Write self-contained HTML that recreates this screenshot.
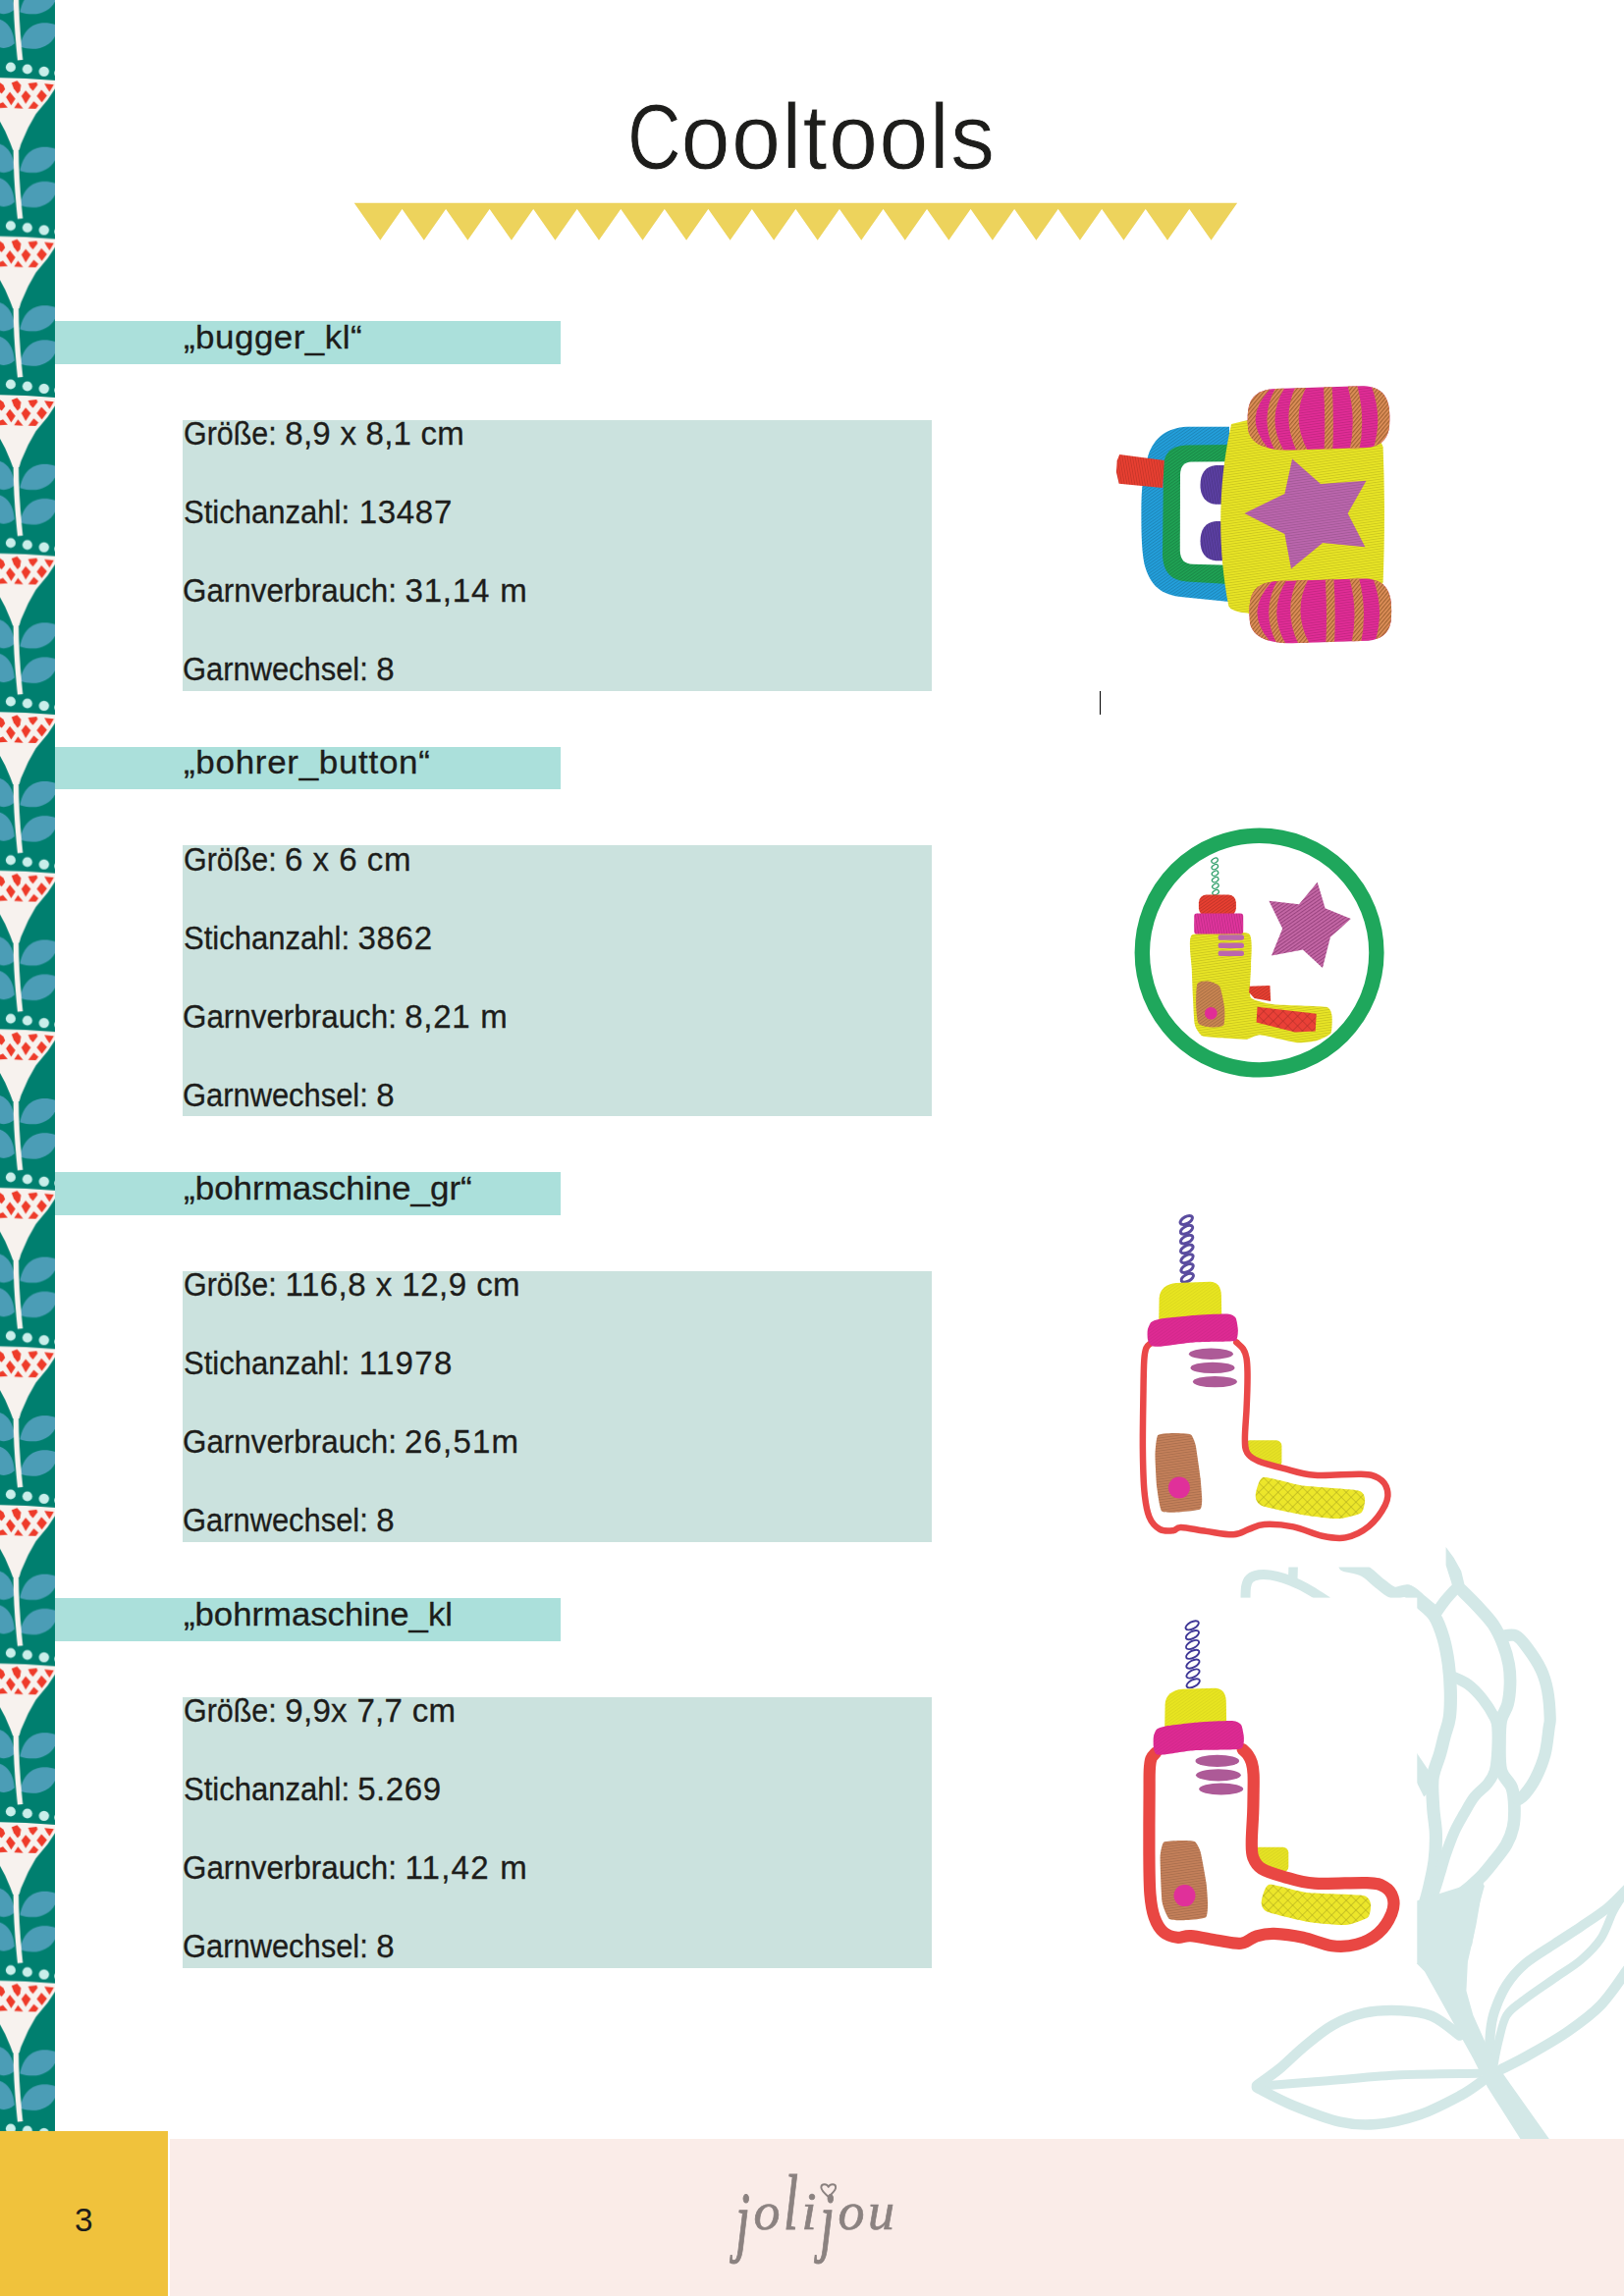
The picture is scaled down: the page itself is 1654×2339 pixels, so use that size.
<!DOCTYPE html>
<html lang="de"><head><meta charset="utf-8"><title>Cooltools</title>
<style>
html,body{margin:0;padding:0;background:#fff;overflow:hidden}
body{width:1654px;height:2339px;position:relative;overflow:hidden;font-family:"Liberation Sans", sans-serif;color:#1d1d1b}
.abs{position:absolute;display:block}
.t{position:absolute;white-space:pre;line-height:1.149;margin:0;padding:0;transform-origin:0 0;-webkit-text-stroke-width:.3px}
.l{font-size:33px}
.k,.v{display:inline-block;transform-origin:0 0}
.v{position:relative}
.bar{position:absolute;left:56px;width:514.7px;height:43.4px;background:#abe0db}
.box{position:absolute;left:185.8px;width:763.2px;height:276.1px;background:#cbe2de}
h1.t{font-weight:normal}
</style></head><body>
<svg class="abs" style="left:1240px;top:1560px" width="414" height="620" viewBox="1240 1560 414 620"><g fill="none" stroke="#d3e8e7" stroke-width="11.5" stroke-linecap="round" stroke-linejoin="round"><path d="M1268.5,1630.8 C1268.6,1628.4 1268.4,1620.2 1269.1,1616.4 C1269.8,1612.6 1270.6,1610.1 1272.8,1608.1 C1275.0,1606.1 1278.8,1604.9 1282.4,1604.3 C1286.0,1603.7 1290.3,1604.0 1294.4,1604.6 C1298.5,1605.2 1302.4,1606.2 1307.2,1607.8 C1312.0,1609.4 1318.2,1611.8 1323.3,1614.2 C1328.4,1616.6 1333.2,1619.5 1337.7,1622.2 C1342.2,1624.9 1348.4,1629.1 1350.5,1630.5" stroke-width="10"/><path d="M1317.2,1594 C1317.1,1596.3 1316.9,1605.3 1316.8,1607.6" stroke-width="9.5"/><path d="M1369.4,1594.9 C1372.7,1595.8 1383.5,1597.4 1389.3,1600.3 C1395.1,1603.2 1399.2,1608.6 1404.2,1612.3 C1409.2,1616.0 1414.2,1621.3 1419.2,1622.7 C1424.2,1624.1 1429.5,1619.3 1434.1,1620.5 C1438.6,1621.7 1442.0,1626.1 1446.5,1629.7 C1451.0,1633.3 1458.9,1640.0 1461.4,1642.1" stroke-width="12.2"/><path d="M1481.4,1619.6 C1479.8,1621.4 1475.0,1626.6 1471.9,1630.4 C1468.9,1634.2 1464.6,1640.6 1463.1,1642.6" stroke-width="11.2"/><path d="M1434,1621 C1436.2,1623.0 1443.0,1628.9 1447.5,1633.2 C1452.0,1637.5 1457.4,1640.8 1461.1,1646.7 C1464.8,1652.6 1467.5,1660.3 1469.9,1668.4 C1472.3,1676.5 1474.1,1686.5 1475.3,1695.5 C1476.5,1704.5 1477.1,1713.6 1477.3,1722.6 C1477.5,1731.6 1477.3,1742.1 1476.3,1749.7 C1475.3,1757.3 1472.9,1761.9 1471.3,1768.1 C1469.7,1774.3 1468.5,1779.9 1466.5,1787.1 C1464.5,1794.3 1460.2,1802.5 1459.1,1811.5 C1458.0,1820.5 1459.2,1831.8 1459.7,1841.3 C1460.2,1850.8 1462.2,1859.4 1462.4,1868.4 C1462.6,1877.4 1462.2,1886.5 1461.1,1895.5 C1460.0,1904.5 1457.5,1914.7 1455.7,1922.6 C1453.9,1930.5 1451.2,1939.5 1450.3,1942.9" stroke-width="13.2"/><path d="M1488.2,1619.6 C1490.9,1622.3 1499.0,1630.0 1504.4,1635.9 C1509.8,1641.8 1516.3,1648.3 1520.7,1654.8 C1525.1,1661.3 1528.2,1668.3 1530.9,1675.1 C1533.6,1681.9 1535.5,1688.7 1536.7,1695.5 C1537.9,1702.3 1538.2,1709.0 1538.0,1715.8 C1537.8,1722.6 1537.1,1730.0 1535.6,1736.1 C1534.1,1742.2 1530.1,1746.2 1528.8,1752.4 C1527.5,1758.6 1527.5,1765.0 1527.5,1773.5 C1527.5,1782.0 1526.8,1795.4 1528.8,1803.3 C1530.8,1811.2 1537.4,1814.7 1539.7,1821.0 C1542.0,1827.3 1542.2,1834.5 1542.4,1841.3 C1542.6,1848.1 1542.4,1855.3 1541.0,1861.6 C1539.6,1867.9 1537.4,1873.5 1534.2,1879.2 C1531.0,1884.9 1526.6,1889.8 1522.1,1895.5 C1517.6,1901.2 1512.8,1907.5 1507.2,1913.1 C1501.6,1918.7 1494.8,1924.6 1488.2,1929.3 C1481.7,1934.0 1473.1,1938.3 1467.9,1941.5 C1462.7,1944.7 1458.8,1947.2 1457.0,1948.3" stroke-width="12.7"/><path d="M1528.8,1667 C1531.3,1666.9 1539.2,1664.3 1543.7,1666.3 C1548.2,1668.3 1551.6,1673.4 1555.9,1679.2 C1560.2,1685.0 1566.1,1693.7 1569.5,1700.9 C1572.9,1708.1 1574.7,1714.5 1576.2,1722.6 C1577.7,1730.7 1578.5,1743.5 1578.7,1749.7 C1578.9,1755.9 1578.5,1753.8 1577.6,1760.0 C1576.7,1766.2 1575.8,1778.5 1573.5,1787.1 C1571.2,1795.7 1567.4,1804.7 1564.0,1811.5 C1560.6,1818.3 1556.1,1824.1 1553.2,1827.7 C1550.3,1831.3 1547.5,1832.3 1546.4,1833.2" stroke-width="12.2"/><path d="M1478.7,1707.7 C1481.4,1709.0 1489.8,1712.0 1495.0,1715.8 C1500.2,1719.6 1505.4,1725.0 1509.9,1730.7 C1514.4,1736.4 1519.6,1744.8 1522.1,1749.7 C1524.6,1754.6 1524.4,1753.8 1524.8,1760.0 C1525.2,1766.2 1525.0,1779.6 1524.5,1787.1 C1524.0,1794.5 1523.6,1799.7 1522.1,1804.7 C1520.6,1809.7 1518.7,1812.6 1515.3,1816.9 C1511.9,1821.2 1505.8,1825.2 1501.7,1830.4 C1497.6,1835.6 1494.3,1842.2 1490.9,1848.1 C1487.5,1854.0 1484.5,1858.9 1481.4,1865.7 C1478.4,1872.5 1475.1,1881.5 1472.6,1888.7 C1470.1,1895.9 1468.5,1902.5 1466.5,1909.0 C1464.5,1915.5 1462.7,1921.9 1460.4,1928.0 C1458.2,1934.1 1454.2,1942.7 1453.0,1945.6" stroke-width="11"/><path d="M1486.8,2073.6 C1482.1,2070.3 1468.5,2058.1 1458.4,2053.9 C1448.3,2049.7 1437.9,2048.8 1426.4,2048.3 C1414.9,2047.8 1401.0,2048.2 1389.5,2050.7 C1378.0,2053.2 1367.7,2057.3 1357.4,2063.1 C1347.1,2068.8 1336.9,2077.8 1327.9,2085.2 C1318.9,2092.6 1311.3,2100.8 1303.3,2107.4 C1295.3,2114.0 1283.8,2121.7 1279.9,2124.6" stroke-width="10.5"/><path d="M1279.9,2125.4 C1292.0,2124.4 1328.1,2121.6 1352.5,2119.7 C1376.9,2117.8 1401.0,2115.0 1426.4,2113.8 C1451.9,2112.6 1492.1,2112.6 1505.2,2112.3" stroke-width="9"/><path d="M1279.9,2126.6 C1285.9,2129.6 1301.4,2138.5 1315.6,2144.3 C1329.8,2150.1 1350.4,2158.3 1364.8,2161.6 C1379.2,2164.9 1388.2,2165.2 1401.8,2164.0 C1415.3,2162.8 1431.7,2159.1 1446.1,2154.2 C1460.5,2149.3 1477.3,2140.2 1488.0,2134.5 C1498.7,2128.8 1506.5,2122.2 1510.2,2119.7" stroke-width="10.5"/><path d="M1516.6,2099.5 C1516.8,2094.5 1517.1,2078.1 1518.0,2069.7 C1518.9,2061.3 1519.3,2057.2 1522.0,2049.3 C1524.7,2041.4 1529.1,2030.3 1534.3,2022.2 C1539.5,2014.1 1545.2,2007.5 1553.3,2000.5 C1561.4,1993.5 1573.6,1986.6 1583.1,1980.3 C1592.6,1974.0 1601.2,1968.7 1610.2,1962.6 C1619.2,1956.5 1629.3,1950.1 1637.3,1943.6 C1645.2,1937.1 1654.5,1926.8 1657.9,1923.4" stroke-width="10"/><path d="M1521.2,2104.4 C1522.0,2100.3 1524.0,2088.3 1526.2,2079.8 C1528.4,2071.3 1530.2,2060.3 1534.3,2053.4 C1538.4,2046.5 1542.5,2044.7 1550.6,2038.4 C1558.7,2032.1 1573.2,2022.5 1583.1,2015.5 C1593.0,2008.5 1602.3,2003.4 1610.2,1996.6 C1618.1,1989.8 1625.0,1983.0 1630.4,1974.9 C1635.8,1966.8 1639.3,1954.6 1642.7,1947.8 C1646.1,1941.0 1649.5,1936.5 1650.8,1934.2" stroke-width="8.5"/><path d="M1528.9,2108.1 C1533.4,2105.8 1544.7,2100.5 1556.0,2094.1 C1567.3,2087.7 1584.2,2078.3 1596.6,2069.7 C1609.0,2061.1 1620.2,2053.2 1630.4,2042.6 C1640.6,2032.0 1653.3,2012.0 1657.9,2005.9" stroke-width="10.5"/></g><g fill="#d3e8e7"><polygon points="1472.6,1576 1480.7,1587.1 1488.2,1600.6 1492.5,1618.2 1481.4,1625 1478,1611.5 1472.6,1594.5"/><polygon points="1442.1,1784.4 1455.7,1804.7 1459.1,1821 1450.3,1830.4 1442.1,1814.2"/><polygon points="1442.1,1941.5 1457,1948.3 1488.2,1929.3 1507.2,1914.4 1511.9,1921.2 1505.8,1942.9 1499,1982.2 1442.1,1982.2"/><path d="M1441.2,1936.9 L1511.4,1914.8 L1503.3,1961.6 L1494.9,1998.5 L1493.4,2028.1 L1500.3,2052.7 L1520,2097 L1537.3,2121.7 L1579.1,2180.8 L1549.6,2180.8 L1515.1,2126.6 L1500.3,2097 L1475.7,2052.7 L1451,2008.4 L1441.2,1998.5Z"/></g></svg>
<svg class="abs" style="left:0;top:0" width="56" height="2172" viewBox="0 0 56 2172"><defs><pattern id="fl" x="0" y="-111.55" width="56.2" height="161.55" patternUnits="userSpaceOnUse"><rect x="0" y="0" width="56" height="162.55" fill="#007f6f"/>
<path d="M20.2,123.8 C25.25,97.68 45.27,96.81 59.2,102.47 C57.46,120.32 41.79,130.77 20.2,123.8Z" fill="#4b9db6"/>
<path d="M20.2,159.15 C25.25,133.03 45.27,132.16 59.2,137.82 C57.46,155.67 41.79,166.12 20.2,159.15Z" fill="#4b9db6"/>
<path d="M20.2,-2.4 C25.25,-28.52 45.27,-29.39 59.2,-23.73 C57.46,-5.88 41.79,4.57 20.2,-2.4Z" fill="#4b9db6"/>
<path d="M14.8,121.19 C13.49,106.39 6.97,98.12 -1.74,96.38 L-1.74,124.67 C3.48,126.85 9.58,125.98 14.8,121.19Z" fill="#4b9db6"/>
<path d="M14.8,155.84 C13.49,141.04 6.97,132.77 -1.74,131.03 L-1.74,159.32 C3.48,161.5 9.58,160.63 14.8,155.84Z" fill="#4b9db6"/>
<path d="M14.8,-5.71 C13.49,-20.51 6.97,-28.78 -1.74,-30.52 L-1.74,-2.23 C3.48,-0.05 9.58,-0.92 14.8,-5.71Z" fill="#4b9db6"/>
<circle cx="10.88" cy="18.46" r="5.04963" fill="#c9eeea"/>
<circle cx="27.86" cy="20.46" r="5.04963" fill="#c9eeea"/>
<circle cx="44.84" cy="22.81" r="5.22375" fill="#c9eeea"/>
<circle cx="60.07" cy="24.55" r="4.78844" fill="#c9eeea"/>
<circle cx="-4.35" cy="17.59" r="4.35313" fill="#c9eeea"/>
<polygon points="-0.87,29.17 26.12,30.04 56.59,32.04 56.59,39.61 48.76,51.37 36.57,66.17 28.73,80.1 21.33,96.64 19.59,102.73 13.06,102.73 10.45,95.77 5.22,83.58 -0.87,72.26" fill="#f7f2ee"/>
<path d="M16.28,99.25 C16.11,126.24 17.85,148.01 20.55,172.82" stroke="#f7f2ee" stroke-width="5.4" fill="none" stroke-linecap="butt"/>
<path d="M16.28,-62.3 C16.11,-35.31 17.85,-13.54 20.55,11.27" stroke="#f7f2ee" stroke-width="5.4" fill="none" stroke-linecap="butt"/>
<polygon points="-0.87,33.52 3.48,36.57 5.22,40.92 1.74,45.27 -0.87,43.53" fill="#ee3b2a"/>
<polygon points="11.75,34.39 17.41,32.21 21.33,36.57 20.46,42.66 17.85,45.27 13.93,40.05" fill="#ee3b2a"/>
<polygon points="28.73,34.83 37.44,33.95 38.31,36.57 33.52,42.66 30.47,39.18" fill="#ee3b2a"/>
<polygon points="45.27,35.26 54.85,36.13 50.5,43.53 47.45,39.18" fill="#ee3b2a"/>
<polygon points="6.09,48.76 10.01,43.53 15.67,50.5 11.32,57.46" fill="#ee3b2a"/>
<polygon points="21.77,47.88 26.12,42.23 31.34,47.88 26.12,55.72" fill="#ee3b2a"/>
<polygon points="37.44,47.88 42.23,41.35 47.88,47.45 42.66,54.41" fill="#ee3b2a"/>
<polygon points="-0.87,55.72 3.05,53.98 7.84,59.64 -0.87,60.07" fill="#ee3b2a"/>
<polygon points="14.37,60.07 18.28,53.98 23.51,60.51" fill="#ee3b2a"/>
<polygon points="28.73,60.51 34.39,53.11 39.18,57.46 36.57,60.94" fill="#ee3b2a"/></pattern></defs><rect x="0" y="0" width="56" height="2172" fill="#007f6f"/><rect x="0" y="0" width="56" height="2172" fill="url(#fl)"/></svg>
<h1 aria-label="Cooltools" class="t " id="title" style="left:639.45px;top:85.53px;font-size:94px;transform:scaleX(0.9577);-webkit-text-stroke:.8px #fff;letter-spacing:1.35px;"><span style="display:inline-block;transform:scaleX(.84);transform-origin:0 0;margin-right:-10.9px;letter-spacing:0">C</span>ooltools</h1>
<svg class="abs" style="left:0;top:190px" width="1654" height="70" viewBox="0 190 1654 70"><path d="M360.7,206.8 L413.9,206.8 L387.3,244.8 Z M405.24,206.8 L458.44,206.8 L431.84,244.8 Z M449.78,206.8 L502.98,206.8 L476.38,244.8 Z M494.32,206.8 L547.52,206.8 L520.92,244.8 Z M538.86,206.8 L592.06,206.8 L565.46,244.8 Z M583.4,206.8 L636.6,206.8 L610,244.8 Z M627.94,206.8 L681.14,206.8 L654.54,244.8 Z M672.48,206.8 L725.68,206.8 L699.08,244.8 Z M717.02,206.8 L770.22,206.8 L743.62,244.8 Z M761.56,206.8 L814.76,206.8 L788.16,244.8 Z M806.1,206.8 L859.3,206.8 L832.7,244.8 Z M850.64,206.8 L903.84,206.8 L877.24,244.8 Z M895.18,206.8 L948.38,206.8 L921.78,244.8 Z M939.72,206.8 L992.92,206.8 L966.32,244.8 Z M984.26,206.8 L1037.46,206.8 L1010.86,244.8 Z M1028.8,206.8 L1082,206.8 L1055.4,244.8 Z M1073.34,206.8 L1126.54,206.8 L1099.94,244.8 Z M1117.88,206.8 L1171.08,206.8 L1144.48,244.8 Z M1162.42,206.8 L1215.62,206.8 L1189.02,244.8 Z M1206.96,206.8 L1260.16,206.8 L1233.56,244.8 Z" fill="#edd35c"/></svg>
<div class="bar" style="top:327.4px"></div>
<div class="t h" id="h0" style="left:186.68px;top:324.74px;font-size:33px;letter-spacing:0.443px;transform:scaleX(1.06);">„bugger_kl“</div>
<div class="box" style="top:428.2px"></div>
<div class="t l" style="left:186.59px;top:423.34px"><span class="k" style="transform:scaleX(0.9214);">Größe:</span> <span class="v" style="left:-8.15px;letter-spacing:0.255px;">8,9 x 8,1 cm</span></div>
<div class="t l" style="left:187.19px;top:503.38px"><span class="k" style="transform:scaleX(0.9401);">Stichanzahl:</span> <span class="v" style="left:-10.51px;letter-spacing:0.723px;">13487</span></div>
<div class="t l" style="left:186.34px;top:583.44px"><span class="k" style="transform:scaleX(0.9505);">Garnverbrauch:</span> <span class="v" style="left:-12.34px;letter-spacing:0.823px;">31,14 m</span></div>
<div class="t l" style="left:186.36px;top:663.49px"><span class="k" style="transform:scaleX(0.9356);">Garnwechsel:</span> <span class="v" style="left:-14.17px;">8</span></div>
<div class="bar" style="top:761px"></div>
<div class="t h" id="h1" style="left:186.68px;top:758.03px;font-size:33px;letter-spacing:0.66px;transform:scaleX(1.06);">„bohrer_button“</div>
<div class="box" style="top:861px"></div>
<div class="t l" style="left:186.59px;top:856.74px"><span class="k" style="transform:scaleX(0.9214);">Größe:</span> <span class="v" style="left:-8.43px;letter-spacing:0.519px;">6 x 6 cm</span></div>
<div class="t l" style="left:187.19px;top:936.78px"><span class="k" style="transform:scaleX(0.9401);">Stichanzahl:</span> <span class="v" style="left:-11.72px;letter-spacing:0.72px;">3862</span></div>
<div class="t l" style="left:186.34px;top:1016.84px"><span class="k" style="transform:scaleX(0.9505);">Garnverbrauch:</span> <span class="v" style="left:-12.59px;letter-spacing:0.747px;">8,21 m</span></div>
<div class="t l" style="left:186.36px;top:1096.88px"><span class="k" style="transform:scaleX(0.9356);">Garnwechsel:</span> <span class="v" style="left:-14.17px;">8</span></div>
<div class="bar" style="top:1194.3px"></div>
<div class="t h" id="h2" style="left:186.68px;top:1191.63px;font-size:33px;letter-spacing:0.011px;transform:scaleX(1.06);">„bohrmaschine_gr“</div>
<div class="box" style="top:1294.8px"></div>
<div class="t l" style="left:186.59px;top:1290.23px"><span class="k" style="transform:scaleX(0.9214);">Größe:</span> <span class="v" style="left:-7.95px;letter-spacing:0.481px;">116,8 x 12,9 cm</span></div>
<div class="t l" style="left:187.19px;top:1370.28px"><span class="k" style="transform:scaleX(0.9401);">Stichanzahl:</span> <span class="v" style="left:-10.51px;letter-spacing:1.348px;">11978</span></div>
<div class="t l" style="left:186.34px;top:1450.33px"><span class="k" style="transform:scaleX(0.9505);">Garnverbrauch:</span> <span class="v" style="left:-12.84px;letter-spacing:1.214px;">26,51m</span></div>
<div class="t l" style="left:186.36px;top:1530.38px"><span class="k" style="transform:scaleX(0.9356);">Garnwechsel:</span> <span class="v" style="left:-14.17px;">8</span></div>
<div class="bar" style="top:1628.2px"></div>
<div class="t h" id="h3" style="left:186.69px;top:1625.84px;font-size:33px;transform:scaleX(1.0518);">„bohrmaschine_kl</div>
<div class="box" style="top:1728.8px"></div>
<div class="t l" style="left:186.59px;top:1723.93px"><span class="k" style="transform:scaleX(0.9214);">Größe:</span> <span class="v" style="left:-8.18px;letter-spacing:0.32px;">9,9x 7,7 cm</span></div>
<div class="t l" style="left:187.19px;top:1803.98px"><span class="k" style="transform:scaleX(0.9401);">Stichanzahl:</span> <span class="v" style="left:-11.97px;letter-spacing:0.568px;">5.269</span></div>
<div class="t l" style="left:186.34px;top:1884.03px"><span class="k" style="transform:scaleX(0.9505);">Garnverbrauch:</span> <span class="v" style="left:-12.35px;letter-spacing:1.243px;">11,42 m</span></div>
<div class="t l" style="left:186.36px;top:1964.08px"><span class="k" style="transform:scaleX(0.9356);">Garnwechsel:</span> <span class="v" style="left:-14.17px;">8</span></div>
<div class="abs" style="left:1119.9px;top:704px;width:1.4px;height:24px;background:#000"></div>
<svg class="abs" style="left:1080px;top:340px" width="400" height="1680" viewBox="1080 340 400 1680"><defs><pattern id="hk" width="2.6" height="2.6" patternUnits="userSpaceOnUse" patternTransform="rotate(-8)"><rect x="0" y="0" width="2.6" height="0.9" fill="#000" fill-opacity="0.13"/></pattern><pattern id="hd" width="2.6" height="2.6" patternUnits="userSpaceOnUse" patternTransform="rotate(-35)"><rect x="0" y="0" width="2.6" height="0.9" fill="#000" fill-opacity="0.16"/></pattern><pattern id="hv" width="2.6" height="2.6" patternUnits="userSpaceOnUse" patternTransform="rotate(80)"><rect x="0" y="0" width="2.6" height="0.9" fill="#000" fill-opacity="0.14"/></pattern><pattern id="hw" width="3.2" height="3.2" patternUnits="userSpaceOnUse" patternTransform="rotate(-35)"><rect x="0" y="0" width="3.2" height="1.2" fill="#fff" fill-opacity="0.35"/></pattern><pattern id="hl" width="2.6" height="2.6" patternUnits="userSpaceOnUse" patternTransform="rotate(-35)"><rect x="0" y="0" width="2.6" height="0.9" fill="#000" fill-opacity="0.05"/></pattern><pattern id="hs" width="3" height="3" patternUnits="userSpaceOnUse" patternTransform="rotate(-35)"><rect x="0" y="0" width="3" height="1.1" fill="#5a1048" fill-opacity="0.42"/></pattern><pattern id="hb" width="3" height="3" patternUnits="userSpaceOnUse" patternTransform="rotate(-50)"><rect x="0" y="0" width="3" height="1.2" fill="#6b3c10" fill-opacity="0.55"/></pattern><pattern id="dia" width="7" height="7" patternUnits="userSpaceOnUse" patternTransform="rotate(45)"><path d="M0,0H7M0,0V7" stroke="#000" stroke-opacity=".28" stroke-width="1.1" fill="none"/></pattern></defs><g><path d="M1252,434.8 L1208.7,434.8 C1189,435.8 1175.2,445.6 1169.3,464.3 C1164.3,481.1 1162.4,498.8 1162.4,518.5 C1162.4,538.2 1162.4,557.9 1165.3,573.7 C1171.2,597.3 1183.1,606.2 1204.7,608.2 L1252,613.1 Z" fill="#239fdb" /><path d="M1252,434.8 L1208.7,434.8 C1189,435.8 1175.2,445.6 1169.3,464.3 C1164.3,481.1 1162.4,498.8 1162.4,518.5 C1162.4,538.2 1162.4,557.9 1165.3,573.7 C1171.2,597.3 1183.1,606.2 1204.7,608.2 L1252,613.1 Z" fill="url(#hd)"/><path d="M1252,453 L1208.7,453.5 C1192.9,454 1185.5,461.4 1185,475.2 L1184,565.8 C1185,583.5 1192.9,591.4 1208.7,592.4 L1252,594.9 Z" fill="#1fa254" /><path d="M1252,453 L1208.7,453.5 C1192.9,454 1185.5,461.4 1185,475.2 L1184,565.8 C1185,583.5 1192.9,591.4 1208.7,592.4 L1252,594.9 Z" fill="url(#hd)"/><path d="M1252,470.2 L1213.6,470.4 C1205.7,470.7 1202.3,475.2 1202,483.1 L1201.8,560.9 C1202.3,570.7 1206.7,574.2 1214.6,574.7 L1252,575.7 Z" fill="#fff"/><path d="M1140.2,462.9 L1185.8,469.1 L1184.2,497 L1139.7,492.7 L1136.9,481.1 L1137.7,469.3Z" fill="#e83f31" /><path d="M1140.2,462.9 L1185.8,469.1 L1184.2,497 L1139.7,492.7 L1136.9,481.1 L1137.7,469.3Z" fill="url(#hv)"/><path d="M1248.1,474 L1238.2,474 C1227.4,475 1222.5,482.9 1222.5,493.9 C1222.5,504.9 1227.4,512.8 1238.2,513.8 L1248.1,513.8 Z" fill="#5b3fa2" /><path d="M1248.1,474 L1238.2,474 C1227.4,475 1222.5,482.9 1222.5,493.9 C1222.5,504.9 1227.4,512.8 1238.2,513.8 L1248.1,513.8 Z" fill="url(#hv)"/><path d="M1248.1,531.1 L1238.2,531.1 C1227.4,532.1 1222.5,540 1222.5,551.2 C1222.5,562.4 1227.4,570.2 1238.2,571.2 L1248.1,571.2 Z" fill="#5b3fa2" /><path d="M1248.1,531.1 L1238.2,531.1 C1227.4,532.1 1222.5,540 1222.5,551.2 C1222.5,562.4 1227.4,570.2 1238.2,571.2 L1248.1,571.2 Z" fill="url(#hv)"/><path d="M1254.1,432 L1272.9,427.6 L1405.9,448.7 L1408.6,455.3 C1410.4,501.9 1410.4,546.2 1408.6,592.8 L1405.9,603.8 L1272.9,624.9 C1259.6,623.8 1253,621.6 1251.2,617.1 C1240.1,559.5 1240.1,493 1254.1,432 Z" fill="#e9e525" /><path d="M1254.1,432 L1272.9,427.6 L1405.9,448.7 L1408.6,455.3 C1410.4,501.9 1410.4,546.2 1408.6,592.8 L1405.9,603.8 L1272.9,624.9 C1259.6,623.8 1253,621.6 1251.2,617.1 C1240.1,559.5 1240.1,493 1254.1,432 Z" fill="url(#hk)"/><path d="M1316.1,467.5 L1345,493 L1391.5,489.7 L1372.7,522.9 L1390.4,557.3 L1347.2,552.9 L1315,579.5 L1308.4,544 L1267.4,522.9 L1308.4,503Z" fill="#bb66ad" /><path d="M1316.1,467.5 L1345,493 L1391.5,489.7 L1372.7,522.9 L1390.4,557.3 L1347.2,552.9 L1315,579.5 L1308.4,544 L1267.4,522.9 L1308.4,503Z" fill="url(#hk)"/><clipPath id="w1"><path d="M1270.7,426.0 C1270.7,406.4 1277.9,397.2 1299.5,395.9 L1386.0,393.3 C1404.7,393.3 1412.6,401.1 1414.8,416.2 C1415.5,422.7 1415.5,429.2 1414.8,436.4 C1412.6,448.8 1404.7,454.7 1391.7,456.0 L1313.9,458.6 C1288.0,458.6 1275.0,452.1 1271.4,439.0 C1270.7,433.8 1270.7,429.9 1270.7,426.0 Z"/></clipPath><g clip-path="url(#w1)"><rect x="1268.7" y="391.3" width="148.1" height="69.3" fill="#e12c96"/><rect x="1268.7" y="391.3" width="148.1" height="69.3" fill="url(#hk)"/><path d="M1286.6,390.0 Q1253.4,426.0 1283.7,461.9" fill="none" stroke="#e0905a" stroke-width="18.7"/><path d="M1286.6,390.0 Q1253.4,426.0 1283.7,461.9" fill="none" stroke="url(#hb)" stroke-width="18.7"/><path d="M1306.7,390.0 Q1283.3,426.0 1304.6,461.9" fill="none" stroke="#e0905a" stroke-width="7.9"/><path d="M1306.7,390.0 Q1283.3,426.0 1304.6,461.9" fill="none" stroke="url(#hb)" stroke-width="7.9"/><path d="M1326.9,390.0 Q1307.8,426.0 1327.6,461.9" fill="none" stroke="#e0905a" stroke-width="10.1"/><path d="M1326.9,390.0 Q1307.8,426.0 1327.6,461.9" fill="none" stroke="url(#hb)" stroke-width="10.1"/><path d="M1352.1,390.0 Q1354.6,426.0 1352.8,461.9" fill="none" stroke="#e0905a" stroke-width="8.6"/><path d="M1352.1,390.0 Q1354.6,426.0 1352.8,461.9" fill="none" stroke="url(#hb)" stroke-width="8.6"/><path d="M1376.6,390.0 Q1387.1,426.0 1378.8,461.9" fill="none" stroke="#e0905a" stroke-width="9.4"/><path d="M1376.6,390.0 Q1387.1,426.0 1378.8,461.9" fill="none" stroke="url(#hb)" stroke-width="9.4"/><path d="M1404.7,390.0 Q1418.4,426.0 1406.2,461.9" fill="none" stroke="#e0905a" stroke-width="17.3"/><path d="M1404.7,390.0 Q1418.4,426.0 1406.2,461.9" fill="none" stroke="url(#hb)" stroke-width="17.3"/></g><clipPath id="w2"><path d="M1272.5,622.3 C1272.5,602.6 1279.7,593.4 1301.3,592.0 L1387.8,589.4 C1406.5,589.4 1414.4,597.3 1416.6,612.5 C1417.3,619.1 1417.3,625.6 1416.6,632.9 C1414.4,645.4 1406.5,651.3 1393.5,652.7 L1315.7,655.3 C1289.8,655.3 1276.8,648.7 1273.2,635.5 C1272.5,630.3 1272.5,626.3 1272.5,622.3 Z"/></clipPath><g clip-path="url(#w2)"><rect x="1270.5" y="587.4" width="148.1" height="69.9" fill="#e12c96"/><rect x="1270.5" y="587.4" width="148.1" height="69.9" fill="url(#hk)"/><path d="M1288.4,586.1 Q1255.2,622.3 1285.5,658.6" fill="none" stroke="#e0905a" stroke-width="18.7"/><path d="M1288.4,586.1 Q1255.2,622.3 1285.5,658.6" fill="none" stroke="url(#hb)" stroke-width="18.7"/><path d="M1308.5,586.1 Q1285.1,622.3 1306.4,658.6" fill="none" stroke="#e0905a" stroke-width="7.9"/><path d="M1308.5,586.1 Q1285.1,622.3 1306.4,658.6" fill="none" stroke="url(#hb)" stroke-width="7.9"/><path d="M1328.7,586.1 Q1309.6,622.3 1329.4,658.6" fill="none" stroke="#e0905a" stroke-width="10.1"/><path d="M1328.7,586.1 Q1309.6,622.3 1329.4,658.6" fill="none" stroke="url(#hb)" stroke-width="10.1"/><path d="M1353.9,586.1 Q1356.4,622.3 1354.6,658.6" fill="none" stroke="#e0905a" stroke-width="8.6"/><path d="M1353.9,586.1 Q1356.4,622.3 1354.6,658.6" fill="none" stroke="url(#hb)" stroke-width="8.6"/><path d="M1378.4,586.1 Q1388.9,622.3 1380.6,658.6" fill="none" stroke="#e0905a" stroke-width="9.4"/><path d="M1378.4,586.1 Q1388.9,622.3 1380.6,658.6" fill="none" stroke="url(#hb)" stroke-width="9.4"/><path d="M1406.5,586.1 Q1420.2,622.3 1408.0,658.6" fill="none" stroke="#e0905a" stroke-width="17.3"/><path d="M1406.5,586.1 Q1420.2,622.3 1408.0,658.6" fill="none" stroke="url(#hb)" stroke-width="17.3"/></g></g><g><circle cx="1282.6" cy="970.6" r="119.3" fill="none" stroke="#1fa75c" stroke-width="15.4"/><g fill="none" stroke="#2f9f6a" stroke-width="1.2"><ellipse cx="1237.1" cy="876.7" rx="3.5" ry="2.3" transform="rotate(-28 1237.1 876.7)"/><ellipse cx="1237.3" cy="883.2" rx="3.5" ry="2.3" transform="rotate(-28 1237.3 883.2)"/><ellipse cx="1237.5" cy="889.7" rx="3.5" ry="2.3" transform="rotate(-28 1237.5 889.7)"/><ellipse cx="1237.7" cy="896.2" rx="3.5" ry="2.3" transform="rotate(-28 1237.7 896.2)"/><ellipse cx="1237.9" cy="902.7" rx="3.5" ry="2.3" transform="rotate(-28 1237.9 902.7)"/><ellipse cx="1238.1" cy="909.2" rx="3.5" ry="2.3" transform="rotate(-28 1238.1 909.2)"/></g><path d="M1214.2,952.3 C1219.0,949.3 1266.7,948.3 1271.7,950.9 C1276.7,953.5 1273.9,978.0 1274.1,983.4 C1274.3,988.8 1271.8,1012.6 1273.7,1015.9 C1275.6,1019.2 1290.9,1022.4 1297.3,1023.2 C1303.7,1024.0 1345.6,1024.8 1350.5,1025.8 C1355.4,1026.8 1356.1,1032.4 1356.5,1034.6 C1356.9,1036.8 1356.8,1050.3 1355.5,1052.4 C1354.2,1054.5 1343.6,1059.4 1340.7,1060.2 C1337.8,1061.0 1325.8,1062.7 1321.0,1062.2 C1316.2,1061.7 1287.8,1054.6 1283.5,1054.3 C1279.2,1054.0 1273.2,1058.5 1269.8,1058.7 C1266.4,1059.0 1246.0,1057.6 1242.2,1057.3 C1238.4,1057.0 1226.5,1056.5 1224.4,1055.3 C1222.3,1054.1 1217.5,1048.2 1216.6,1042.5 C1215.7,1036.8 1214.0,994.8 1213.8,987.3 C1213.6,979.8 1209.4,955.3 1214.2,952.3Z" fill="#e9e525" /><path d="M1214.2,952.3 C1219.0,949.3 1266.7,948.3 1271.7,950.9 C1276.7,953.5 1273.9,978.0 1274.1,983.4 C1274.3,988.8 1271.8,1012.6 1273.7,1015.9 C1275.6,1019.2 1290.9,1022.4 1297.3,1023.2 C1303.7,1024.0 1345.6,1024.8 1350.5,1025.8 C1355.4,1026.8 1356.1,1032.4 1356.5,1034.6 C1356.9,1036.8 1356.8,1050.3 1355.5,1052.4 C1354.2,1054.5 1343.6,1059.4 1340.7,1060.2 C1337.8,1061.0 1325.8,1062.7 1321.0,1062.2 C1316.2,1061.7 1287.8,1054.6 1283.5,1054.3 C1279.2,1054.0 1273.2,1058.5 1269.8,1058.7 C1266.4,1059.0 1246.0,1057.6 1242.2,1057.3 C1238.4,1057.0 1226.5,1056.5 1224.4,1055.3 C1222.3,1054.1 1217.5,1048.2 1216.6,1042.5 C1215.7,1036.8 1214.0,994.8 1213.8,987.3 C1213.6,979.8 1209.4,955.3 1214.2,952.3Z" fill="url(#hk)"/><rect x="1220.9" y="911.5" width="38" height="21.7" rx="7.9" fill="#e83f31"/><rect x="1220.9" y="911.5" width="38" height="21.7" rx="7.9" fill="url(#hd)"/><rect x="1216.2" y="930.6" width="50" height="20.9" rx="2.8" fill="#e0349d"/><rect x="1216.2" y="930.6" width="50" height="20.9" rx="2.8" fill="url(#hv)"/><rect x="1240.6" y="952.3" width="26.4" height="5.5" rx="2.4" fill="#bb66ad"/><rect x="1240.6" y="960.5" width="26.4" height="5.6" rx="2.4" fill="#bb66ad"/><rect x="1240.6" y="968.6" width="26.4" height="5.5" rx="2.4" fill="#bb66ad"/><path d="M1219.5,1002.1 C1220.7,999.8 1228.0,999.3 1230.3,999.6 C1232.6,999.9 1240.5,1002.4 1242.2,1005.1 C1243.9,1007.8 1246.7,1022.8 1247.1,1026.7 C1247.5,1030.6 1247.6,1042.5 1246.1,1044.5 C1244.6,1046.5 1234.9,1046.7 1232.3,1046.5 C1229.7,1046.3 1221.9,1044.9 1220.5,1042.5 C1219.1,1040.1 1218.2,1026.8 1218.1,1022.8 C1218.0,1018.8 1218.3,1004.4 1219.5,1002.1Z" fill="#c98552" /><path d="M1219.5,1002.1 C1220.7,999.8 1228.0,999.3 1230.3,999.6 C1232.6,999.9 1240.5,1002.4 1242.2,1005.1 C1243.9,1007.8 1246.7,1022.8 1247.1,1026.7 C1247.5,1030.6 1247.6,1042.5 1246.1,1044.5 C1244.6,1046.5 1234.9,1046.7 1232.3,1046.5 C1229.7,1046.3 1221.9,1044.9 1220.5,1042.5 C1219.1,1040.1 1218.2,1026.8 1218.1,1022.8 C1218.0,1018.8 1218.3,1004.4 1219.5,1002.1Z" fill="url(#hd)"/><circle cx="1233.3" cy="1032.3" r="6.3" fill="#e12c96"/><path d="M1272.7,1004.7 L1293.4,1004.1 L1294.2,1019.9 L1277.6,1016.9 L1272.1,1011Z" fill="#e83f31" /><path d="M1272.7,1004.7 L1293.4,1004.1 L1294.2,1019.9 L1277.6,1016.9 L1272.1,1011Z" fill="url(#hd)"/><path d="M1280.6,1025.8 L1340.7,1032.7 L1339.7,1050.4 L1319,1051.4 L1279.6,1041.5Z" fill="#ea4037" /><path d="M1280.6,1025.8 L1340.7,1032.7 L1339.7,1050.4 L1319,1051.4 L1279.6,1041.5Z" fill="url(#dia)"/><path d="M1341.7,898.7 L1349.6,925.3 L1375.8,936.1 L1354.9,954.8 L1347,986 L1326.9,967.6 L1295,973.5 L1306.2,946 L1292.4,917.8 L1323,921.3Z" fill="#c568a6" /><path d="M1341.7,898.7 L1349.6,925.3 L1375.8,936.1 L1354.9,954.8 L1347,986 L1326.9,967.6 L1295,973.5 L1306.2,946 L1292.4,917.8 L1323,921.3Z" fill="url(#hs)"/></g><rect x="1130" y="1196" width="313.3" height="400.5" fill="#fff"/><rect x="1130" y="1627.6" width="313.3" height="372.4" fill="#fff"/><g><g fill="none" stroke="#5a4c9f" stroke-width="3"><ellipse cx="1208.3" cy="1243.0" rx="6.8" ry="3.5" transform="rotate(-28 1208.3 1243.0)"/><ellipse cx="1208.5" cy="1252.8" rx="6.8" ry="3.5" transform="rotate(-28 1208.5 1252.8)"/><ellipse cx="1208.6" cy="1262.6" rx="6.8" ry="3.5" transform="rotate(-28 1208.6 1262.6)"/><ellipse cx="1208.8" cy="1272.4" rx="6.8" ry="3.5" transform="rotate(-28 1208.8 1272.4)"/><ellipse cx="1209.0" cy="1282.2" rx="6.8" ry="3.5" transform="rotate(-28 1209.0 1282.2)"/><ellipse cx="1209.1" cy="1292.0" rx="6.8" ry="3.5" transform="rotate(-28 1209.1 1292.0)"/><ellipse cx="1209.3" cy="1301.8" rx="6.8" ry="3.5" transform="rotate(-28 1209.3 1301.8)"/></g><path d="M1180.2,1346.1 L1180.6,1322.5 C1181,1312.6 1188.1,1308.1 1198,1306.9 L1232.5,1305.7 C1239.4,1305.7 1243.7,1310.6 1243.9,1319.5 L1244.3,1346.1 Z" fill="#e8e520"/><path d="M1180.2,1346.1 L1180.6,1322.5 C1181,1312.6 1188.1,1308.1 1198,1306.9 L1232.5,1305.7 C1239.4,1305.7 1243.7,1310.6 1243.9,1319.5 L1244.3,1346.1 Z" fill="url(#hl)"/><rect x="1267.9" y="1467.3" width="37.5" height="27.6" rx="5.5" fill="#e6e224"/><rect x="1267.9" y="1467.3" width="37.5" height="27.6" rx="5.5" fill="url(#hl)"/><path d="M1172.2,1368.2 C1171.4,1369.0 1168.6,1370.4 1167.4,1373.3 C1166.2,1376.2 1165.8,1378.2 1165.3,1385.5 C1164.8,1392.8 1164.7,1401.9 1164.5,1417.0 C1164.3,1432.1 1163.7,1459.1 1163.9,1476.2 C1164.1,1493.3 1164.4,1508.0 1165.5,1519.5 C1166.6,1531.0 1167.8,1538.7 1170.4,1545.1 C1173.0,1551.5 1177.1,1555.5 1181.2,1557.9 C1185.3,1560.3 1191.4,1559.6 1195.0,1559.3 C1198.6,1559.0 1197.3,1555.9 1202.9,1556.0 C1208.5,1556.1 1219.6,1558.7 1228.5,1559.9 C1237.4,1561.1 1248.9,1563.6 1256.1,1563.3 C1263.3,1563.0 1266.7,1559.6 1271.9,1557.9 C1277.2,1556.2 1280.0,1553.4 1287.6,1553.0 C1295.1,1552.6 1307.3,1553.4 1317.2,1555.4 C1327.1,1557.4 1337.8,1563.0 1346.7,1564.8 C1355.6,1566.6 1362.5,1568.0 1370.4,1566.4 C1378.3,1564.8 1387.3,1560.5 1394.0,1555.0 C1400.7,1549.5 1407.7,1539.5 1410.8,1533.3 C1413.9,1527.0 1413.9,1522.1 1412.8,1517.5 C1411.7,1512.9 1408.3,1508.3 1403.9,1505.7 C1399.5,1503.1 1397.0,1502.3 1386.2,1501.8 C1375.4,1501.3 1352.1,1503.8 1338.9,1502.8 C1325.8,1501.8 1316.8,1498.3 1307.3,1495.9 C1297.8,1493.5 1287.9,1491.0 1281.7,1488.4 C1275.5,1485.8 1272.6,1483.8 1270.3,1480.1 C1268.0,1476.4 1268.0,1473.5 1267.9,1466.3 C1267.8,1459.1 1269.1,1444.9 1269.5,1436.7 C1269.9,1428.5 1270.1,1423.6 1270.3,1417.0 C1270.5,1410.4 1270.6,1402.9 1270.5,1397.3 C1270.4,1391.7 1270.2,1387.4 1269.5,1383.5 C1268.8,1379.6 1267.7,1376.8 1266.0,1374.1 C1264.3,1371.4 1260.4,1368.5 1259.3,1367.4" fill="#fff" stroke="#ea4848" stroke-width="6.50246" stroke-linejoin="round" stroke-linecap="round"/><path d="M1168.8,1355 C1169.2,1353.1 1171.1,1348.3 1172.4,1347.1 C1173.7,1345.9 1176.5,1344.5 1181.2,1343.7 C1185.9,1342.9 1208.7,1340.5 1216.1,1340.0 C1223.5,1339.5 1245.7,1338.3 1250.2,1338.6 C1254.7,1338.9 1257.4,1341.0 1258.5,1342.6 C1259.6,1344.2 1260.6,1351.8 1260.8,1354.0 C1261.0,1356.2 1260.6,1361.6 1260.0,1362.9 C1259.4,1364.2 1260.2,1365.7 1255.5,1366.2 C1250.8,1366.7 1224.0,1366.8 1216.1,1367.4 C1208.2,1368.0 1185.9,1371.3 1181.2,1371.7 C1176.5,1372.1 1173.7,1371.4 1172.4,1370.7 C1171.1,1370.0 1169.4,1366.5 1169.0,1364.8 C1168.6,1363.1 1168.4,1356.9 1168.8,1355.0Z" fill="#de2a93" /><path d="M1168.8,1355 C1169.2,1353.1 1171.1,1348.3 1172.4,1347.1 C1173.7,1345.9 1176.5,1344.5 1181.2,1343.7 C1185.9,1342.9 1208.7,1340.5 1216.1,1340.0 C1223.5,1339.5 1245.7,1338.3 1250.2,1338.6 C1254.7,1338.9 1257.4,1341.0 1258.5,1342.6 C1259.6,1344.2 1260.6,1351.8 1260.8,1354.0 C1261.0,1356.2 1260.6,1361.6 1260.0,1362.9 C1259.4,1364.2 1260.2,1365.7 1255.5,1366.2 C1250.8,1366.7 1224.0,1366.8 1216.1,1367.4 C1208.2,1368.0 1185.9,1371.3 1181.2,1371.7 C1176.5,1372.1 1173.7,1371.4 1172.4,1370.7 C1171.1,1370.0 1169.4,1366.5 1169.0,1364.8 C1168.6,1363.1 1168.4,1356.9 1168.8,1355.0Z" fill="url(#hl)"/><ellipse cx="1233.4" cy="1379.2" rx="22.5" ry="5.7" fill="#ad5a97"/><ellipse cx="1235" cy="1393.4" rx="22.5" ry="5.7" fill="#ad5a97"/><ellipse cx="1237.4" cy="1407.6" rx="22.5" ry="5.7" fill="#ad5a97"/><path d="M1179.3,1462 C1181.0,1460.2 1194.2,1460.0 1197.0,1460.0 C1199.8,1460.0 1211.1,1460.4 1212.8,1461.4 C1214.5,1462.4 1216.9,1468.5 1217.7,1472.2 C1218.5,1475.9 1222.1,1501.1 1222.6,1505.7 C1223.1,1510.3 1224.2,1524.7 1224.2,1527.4 C1224.2,1530.1 1224.0,1536.5 1222.2,1537.6 C1220.4,1538.7 1206.2,1540.0 1202.9,1540.2 C1199.7,1540.4 1185.2,1541.6 1183.2,1539.6 C1181.2,1537.5 1178.9,1520.4 1178.3,1515.6 C1177.7,1510.8 1176.4,1486.6 1176.5,1482.1 C1176.6,1477.6 1177.6,1463.8 1179.3,1462.0Z" fill="#c4805a" /><path d="M1179.3,1462 C1181.0,1460.2 1194.2,1460.0 1197.0,1460.0 C1199.8,1460.0 1211.1,1460.4 1212.8,1461.4 C1214.5,1462.4 1216.9,1468.5 1217.7,1472.2 C1218.5,1475.9 1222.1,1501.1 1222.6,1505.7 C1223.1,1510.3 1224.2,1524.7 1224.2,1527.4 C1224.2,1530.1 1224.0,1536.5 1222.2,1537.6 C1220.4,1538.7 1206.2,1540.0 1202.9,1540.2 C1199.7,1540.4 1185.2,1541.6 1183.2,1539.6 C1181.2,1537.5 1178.9,1520.4 1178.3,1515.6 C1177.7,1510.8 1176.4,1486.6 1176.5,1482.1 C1176.6,1477.6 1177.6,1463.8 1179.3,1462.0Z" fill="url(#hk)"/><circle cx="1200.9" cy="1515.6" r="11.0" fill="#e0309a"/><path d="M1286.7,1505.1 C1291.5,1504.1 1317.3,1512.3 1327.0,1513.6 C1336.7,1514.9 1376.9,1517.1 1383.2,1518.5 C1389.5,1519.9 1389.8,1525.1 1390.1,1527.4 C1390.4,1529.7 1389.0,1539.2 1386.2,1541.2 C1383.4,1543.2 1368.4,1546.9 1362.5,1547.1 C1356.6,1547.3 1334.8,1544.5 1327.0,1543.2 C1319.2,1541.9 1289.5,1535.7 1284.7,1533.7 C1279.9,1531.7 1278.6,1526.3 1278.8,1523.4 C1279.0,1520.5 1281.9,1506.1 1286.7,1505.1Z" fill="#ece62a" /><path d="M1286.7,1505.1 C1291.5,1504.1 1317.3,1512.3 1327.0,1513.6 C1336.7,1514.9 1376.9,1517.1 1383.2,1518.5 C1389.5,1519.9 1389.8,1525.1 1390.1,1527.4 C1390.4,1529.7 1389.0,1539.2 1386.2,1541.2 C1383.4,1543.2 1368.4,1546.9 1362.5,1547.1 C1356.6,1547.3 1334.8,1544.5 1327.0,1543.2 C1319.2,1541.9 1289.5,1535.7 1284.7,1533.7 C1279.9,1531.7 1278.6,1526.3 1278.8,1523.4 C1279.0,1520.5 1281.9,1506.1 1286.7,1505.1Z" fill="url(#dia)"/></g><g><g fill="none" stroke="#3f3796" stroke-width="1.9"><ellipse cx="1214.2" cy="1655.8" rx="7.3" ry="3.5" transform="rotate(-28 1214.2 1655.8)"/><ellipse cx="1214.4" cy="1665.6" rx="7.3" ry="3.5" transform="rotate(-28 1214.4 1665.6)"/><ellipse cx="1214.5" cy="1675.5" rx="7.3" ry="3.5" transform="rotate(-28 1214.5 1675.5)"/><ellipse cx="1214.7" cy="1685.3" rx="7.3" ry="3.5" transform="rotate(-28 1214.7 1685.3)"/><ellipse cx="1214.9" cy="1695.1" rx="7.3" ry="3.5" transform="rotate(-28 1214.9 1695.1)"/><ellipse cx="1215.0" cy="1705.0" rx="7.3" ry="3.5" transform="rotate(-28 1215.0 1705.0)"/><ellipse cx="1215.2" cy="1714.8" rx="7.3" ry="3.5" transform="rotate(-28 1215.2 1714.8)"/></g><path d="M1186.2,1760 L1186.6,1736.4 C1186.9,1726.6 1194,1722 1203.9,1720.8 L1237.4,1719.7 C1244.3,1719.7 1248.6,1724.6 1248.8,1733.4 L1249.2,1760 Z" fill="#e8e520"/><path d="M1186.2,1760 L1186.6,1736.4 C1186.9,1726.6 1194,1722 1203.9,1720.8 L1237.4,1719.7 C1244.3,1719.7 1248.6,1724.6 1248.8,1733.4 L1249.2,1760 Z" fill="url(#hl)"/><rect x="1275.8" y="1881.8" width="36.5" height="25.4" rx="5.5" fill="#e6e224"/><rect x="1275.8" y="1881.8" width="36.5" height="25.4" rx="5.5" fill="url(#hl)"/><path d="M1176.9,1785.7 C1176.2,1786.7 1173.4,1788.6 1172.4,1791.6 C1171.4,1794.5 1171.1,1797.5 1170.8,1803.4 C1170.5,1809.3 1170.7,1813.2 1170.6,1827.0 C1170.5,1840.8 1170.3,1869.1 1170.4,1886.2 C1170.5,1903.3 1170.5,1918.3 1171.4,1929.5 C1172.3,1940.7 1173.4,1946.7 1175.7,1953.2 C1178.0,1959.7 1181.3,1965.1 1185.2,1968.5 C1189.1,1971.9 1194.4,1973.2 1199.0,1973.8 C1203.6,1974.4 1205.9,1971.6 1212.8,1972.1 C1219.7,1972.6 1231.8,1975.5 1240.3,1976.8 C1248.8,1978.1 1257.4,1980.5 1264.0,1979.8 C1270.6,1979.0 1274.2,1973.9 1279.8,1972.3 C1285.4,1970.7 1289.6,1969.7 1297.5,1969.9 C1305.4,1970.2 1317.2,1971.7 1327.0,1973.8 C1336.8,1975.9 1347.4,1981.1 1356.6,1982.3 C1365.8,1983.5 1374.3,1982.9 1382.2,1980.7 C1390.1,1978.5 1398.1,1974.5 1403.9,1969.3 C1409.8,1964.1 1414.8,1955.6 1417.3,1949.6 C1419.8,1943.6 1420.0,1938.0 1418.7,1933.4 C1417.5,1928.8 1414.2,1924.5 1409.8,1922.0 C1405.4,1919.5 1403.9,1918.6 1392.1,1918.1 C1380.3,1917.5 1353.0,1919.8 1338.9,1918.7 C1324.8,1917.7 1316.3,1914.3 1307.3,1911.8 C1298.3,1909.3 1289.9,1906.8 1284.7,1903.5 C1279.5,1900.2 1277.9,1896.6 1276.2,1892.1 C1274.5,1887.6 1274.8,1883.9 1274.8,1876.3 C1274.8,1868.7 1275.9,1854.9 1276.2,1846.7 C1276.5,1838.5 1276.5,1833.6 1276.6,1827.0 C1276.7,1820.4 1276.9,1812.5 1276.6,1807.3 C1276.3,1802.0 1275.8,1798.8 1274.8,1795.5 C1273.8,1792.2 1272.4,1789.8 1270.9,1787.6 C1269.4,1785.4 1266.5,1783.0 1265.6,1782.1" fill="#fff" stroke="#e94743" stroke-width="12.2167" stroke-linejoin="round" stroke-linecap="round"/><path d="M1174.9,1768.9 C1175.3,1766.9 1177.0,1762.7 1178.3,1761.6 C1179.6,1760.5 1182.6,1759.3 1187.1,1758.5 C1191.6,1757.7 1213.3,1755.1 1220.6,1754.5 C1227.9,1753.9 1250.5,1752.7 1255.1,1753.0 C1259.7,1753.3 1262.8,1755.5 1264.0,1757.1 C1265.2,1758.7 1266.4,1765.8 1266.7,1767.9 C1267.0,1770.0 1267.0,1775.3 1266.4,1776.8 C1265.8,1778.3 1266.4,1781.4 1261.0,1782.1 C1255.6,1782.8 1224.2,1782.7 1216.1,1783.3 C1208.0,1783.9 1189.3,1787.2 1185.2,1787.6 C1181.1,1788.0 1178.4,1787.4 1177.3,1786.7 C1176.2,1786.0 1175.2,1782.6 1174.9,1780.7 C1174.6,1778.8 1174.5,1770.9 1174.9,1768.9Z" fill="#de2a93" /><path d="M1174.9,1768.9 C1175.3,1766.9 1177.0,1762.7 1178.3,1761.6 C1179.6,1760.5 1182.6,1759.3 1187.1,1758.5 C1191.6,1757.7 1213.3,1755.1 1220.6,1754.5 C1227.9,1753.9 1250.5,1752.7 1255.1,1753.0 C1259.7,1753.3 1262.8,1755.5 1264.0,1757.1 C1265.2,1758.7 1266.4,1765.8 1266.7,1767.9 C1267.0,1770.0 1267.0,1775.3 1266.4,1776.8 C1265.8,1778.3 1266.4,1781.4 1261.0,1782.1 C1255.6,1782.8 1224.2,1782.7 1216.1,1783.3 C1208.0,1783.9 1189.3,1787.2 1185.2,1787.6 C1181.1,1788.0 1178.4,1787.4 1177.3,1786.7 C1176.2,1786.0 1175.2,1782.6 1174.9,1780.7 C1174.6,1778.8 1174.5,1770.9 1174.9,1768.9Z" fill="url(#hl)"/><ellipse cx="1239.8" cy="1793.9" rx="22.3" ry="6.1" fill="#ad5a97"/><ellipse cx="1240.9" cy="1808.3" rx="22.9" ry="6.1" fill="#ad5a97"/><ellipse cx="1243.7" cy="1822.5" rx="22.5" ry="6.1" fill="#ad5a97"/><path d="M1185.2,1876.7 C1186.8,1875.3 1198.3,1875.0 1200.9,1874.9 C1203.5,1874.8 1214.9,1875.0 1216.7,1875.9 C1218.5,1876.8 1221.6,1882.7 1222.6,1886.2 C1223.6,1889.7 1227.9,1913.3 1228.5,1917.7 C1229.1,1922.1 1230.1,1936.4 1230.1,1939.4 C1230.1,1942.4 1229.9,1951.8 1228.1,1953.2 C1226.3,1954.6 1211.9,1955.9 1208.8,1956.1 C1205.7,1956.3 1193.2,1956.7 1191.1,1955.1 C1189.0,1953.5 1184.4,1942.7 1183.6,1937.4 C1182.8,1932.2 1181.5,1897.2 1181.6,1892.1 C1181.7,1887.0 1183.6,1878.1 1185.2,1876.7Z" fill="#c4805a" /><path d="M1185.2,1876.7 C1186.8,1875.3 1198.3,1875.0 1200.9,1874.9 C1203.5,1874.8 1214.9,1875.0 1216.7,1875.9 C1218.5,1876.8 1221.6,1882.7 1222.6,1886.2 C1223.6,1889.7 1227.9,1913.3 1228.5,1917.7 C1229.1,1922.1 1230.1,1936.4 1230.1,1939.4 C1230.1,1942.4 1229.9,1951.8 1228.1,1953.2 C1226.3,1954.6 1211.9,1955.9 1208.8,1956.1 C1205.7,1956.3 1193.2,1956.7 1191.1,1955.1 C1189.0,1953.5 1184.4,1942.7 1183.6,1937.4 C1182.8,1932.2 1181.5,1897.2 1181.6,1892.1 C1181.7,1887.0 1183.6,1878.1 1185.2,1876.7Z" fill="url(#hk)"/><circle cx="1206.5" cy="1931.1" r="11.0" fill="#e0309a"/><path d="M1292.6,1919.7 C1297.2,1918.8 1321.5,1926.8 1331.0,1927.9 C1340.5,1929.0 1381.6,1929.8 1388.1,1930.9 C1394.6,1932.1 1395.5,1937.2 1396.0,1939.4 C1396.5,1941.6 1395.7,1951.0 1393.1,1953.2 C1390.5,1955.4 1376.4,1960.5 1370.4,1961.0 C1364.4,1961.5 1341.0,1959.4 1333.0,1958.1 C1325.0,1956.8 1295.4,1949.7 1290.6,1947.6 C1285.8,1945.5 1284.5,1940.2 1284.7,1937.4 C1284.9,1934.6 1288.0,1920.7 1292.6,1919.7Z" fill="#ece62a" /><path d="M1292.6,1919.7 C1297.2,1918.8 1321.5,1926.8 1331.0,1927.9 C1340.5,1929.0 1381.6,1929.8 1388.1,1930.9 C1394.6,1932.1 1395.5,1937.2 1396.0,1939.4 C1396.5,1941.6 1395.7,1951.0 1393.1,1953.2 C1390.5,1955.4 1376.4,1960.5 1370.4,1961.0 C1364.4,1961.5 1341.0,1959.4 1333.0,1958.1 C1325.0,1956.8 1295.4,1949.7 1290.6,1947.6 C1285.8,1945.5 1284.5,1940.2 1284.7,1937.4 C1284.9,1934.6 1288.0,1920.7 1292.6,1919.7Z" fill="url(#dia)"/></g></svg>
<div class="abs" style="left:173.4px;top:2179.2px;width:1481px;height:160px;background:#faece8"></div>
<div class="abs" style="left:0;top:2171px;width:171px;height:168px;background:#f0c23c"></div>
<div class="t " id="pg" style="left:76.12px;top:2243.4px;font-size:32.6px;transform:scaleX(1.0258);-webkit-text-stroke-width:0;">3</div>
<div class="t" id="logo" aria-label="jolijou" style="left:749px;top:2222.49px;font-family:'Liberation Serif',serif;font-style:italic;font-size:54px;color:#8b8280;letter-spacing:3.5px;line-height:1.149;-webkit-text-stroke-width:.7px"><span style="display:inline-block;transform:scaleY(1.5);transform-origin:50% 12.5px">j</span>o<span style="display:inline-block;transform:scaleY(1.5);transform-origin:50% 48.1px">l</span>i<span style="display:inline-block;transform:scaleY(1.5);transform-origin:50% 12.5px">j</span>ou</div>
<svg class="abs" style="left:834.5px;top:2223.5px" width="17.5" height="15.7" viewBox="0 0 20 18"><path d="M10,16 C4,11 1.5,8 1.5,5 C1.500,2.5 3.500,1.500 5.500,1.500 C7.500,1.500 9,2.500 10,4.500 C11,2.500 13,1.500 15,1.500 C17,1.500 18.500,3 18.500,5 C18.500,8 16,11 10,16Z" fill="none" stroke="#8b8280" stroke-width="2.2" stroke-linejoin="round"/></svg>
</body></html>
